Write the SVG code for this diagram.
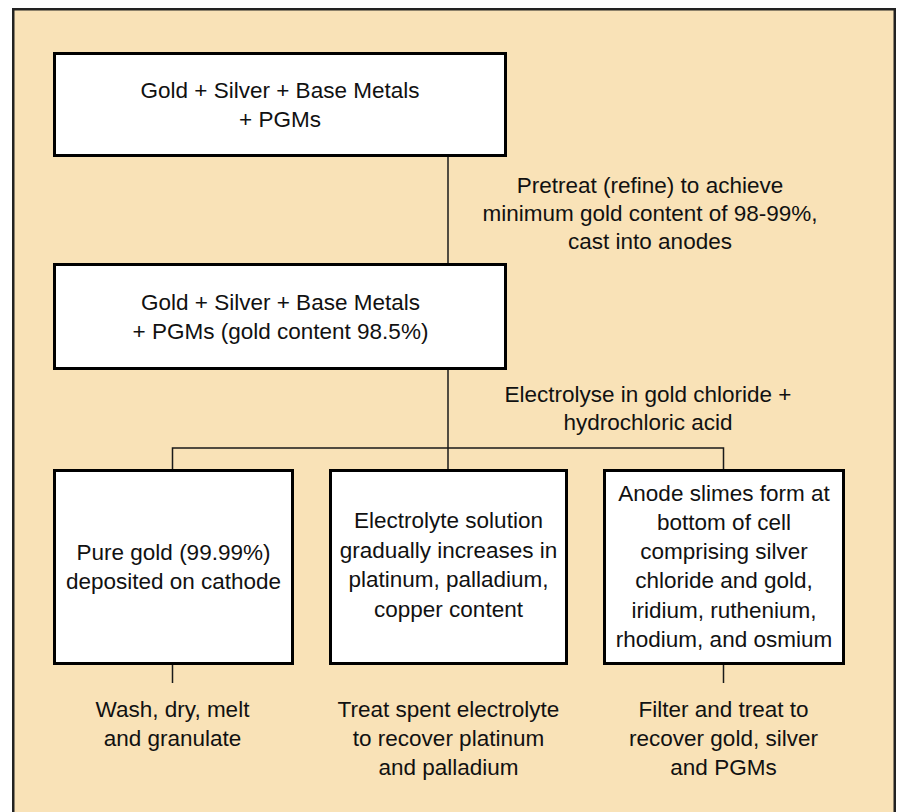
<svg xmlns="http://www.w3.org/2000/svg" width="899" height="812" viewBox="0 0 899 812">
  <style>
    .panel { fill: #F9E2B7; stroke: #222; stroke-width: 2.5; }
    .box { fill: #ffffff; stroke: #000; stroke-width: 3; }
    .wire { fill: none; stroke: #1a1a1a; stroke-width: 1.5; }
    text { font-family: "Liberation Sans", Arial, sans-serif; font-size: 22.5px; fill: #111; text-anchor: middle; }
  </style>

  <!-- background panel -->
  <rect class="panel" x="13.25" y="9.25" width="881.5" height="830"/>

  <!-- connectors -->
  <g id="connectors">
    <line class="wire" x1="448" y1="156" x2="448" y2="264"/>
    <line class="wire" x1="448" y1="369" x2="448" y2="470"/>
    <polyline class="wire" points="172.5,470 172.5,448 723.5,448 723.5,470"/>
    <line class="wire" x1="172.5" y1="664" x2="172.5" y2="683"/>
    <line class="wire" x1="723.5" y1="664" x2="723.5" y2="683"/>
  </g>

  <!-- top node: crude feed -->
  <g id="feed">
    <rect class="box" x="54.5" y="53.5" width="451" height="102"/>
    <text x="280" y="98">Gold + Silver + Base Metals</text>
    <text x="280" y="127">+ PGMs</text>
  </g>

  <g id="pretreat-label">
    <text x="650" y="193">Pretreat (refine) to achieve</text>
    <text x="650" y="221">minimum gold content of 98-99%,</text>
    <text x="650" y="249">cast into anodes</text>
  </g>

  <!-- anode node -->
  <g id="anode">
    <rect class="box" x="54.5" y="264.5" width="451" height="104"/>
    <text x="280.5" y="310">Gold + Silver + Base Metals</text>
    <text x="280.5" y="339">+ PGMs (gold content 98.5%)</text>
  </g>

  <g id="electrolyse-label">
    <text x="648" y="402">Electrolyse in gold chloride +</text>
    <text x="648" y="430">hydrochloric acid</text>
  </g>

  <!-- cathode product -->
  <g id="cathode">
    <rect class="box" x="54.5" y="470.5" width="238" height="193"/>
    <text x="173.5" y="560">Pure gold (99.99%)</text>
    <text x="173.5" y="589">deposited on cathode</text>
  </g>

  <!-- electrolyte -->
  <g id="electrolyte">
    <rect class="box" x="330.5" y="470.5" width="236" height="193"/>
    <text x="448.5" y="528">Electrolyte solution</text>
    <text x="448.5" y="557.5">gradually increases in</text>
    <text x="448.5" y="587">platinum, palladium,</text>
    <text x="448.5" y="616.5">copper content</text>
  </g>

  <!-- anode slimes -->
  <g id="slimes">
    <rect class="box" x="604.5" y="470.5" width="239" height="193"/>
    <text x="724" y="500.5">Anode slimes form at</text>
    <text x="724" y="529.8">bottom of cell</text>
    <text x="724" y="559.1">comprising silver</text>
    <text x="724" y="588.4">chloride and gold,</text>
    <text x="724" y="617.7">iridium, ruthenium,</text>
    <text x="724" y="647">rhodium, and osmium</text>
  </g>

  <!-- follow-up steps -->
  <g id="step-gold">
    <text x="172.5" y="717">Wash, dry, melt</text>
    <text x="172.5" y="746">and granulate</text>
  </g>
  <g id="step-electrolyte">
    <text x="448.5" y="717">Treat spent electrolyte</text>
    <text x="448.5" y="746">to recover platinum</text>
    <text x="448.5" y="775">and palladium</text>
  </g>
  <g id="step-slimes">
    <text x="723.5" y="717">Filter and treat to</text>
    <text x="723.5" y="746">recover gold, silver</text>
    <text x="723.5" y="775">and PGMs</text>
  </g>
</svg>
